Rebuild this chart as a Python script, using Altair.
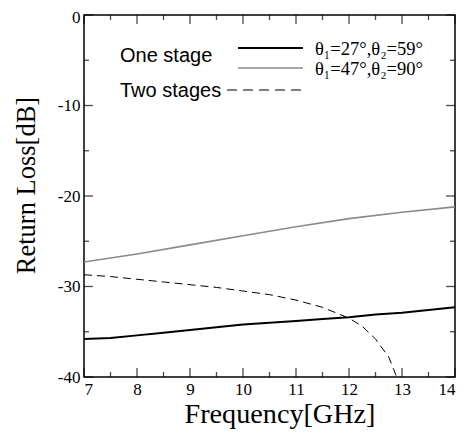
import altair as alt
import pandas as pd

# ---- data ----
freq_a = [7, 7.5, 8, 8.5, 9, 9.5, 10, 10.5, 11, 11.5, 12, 12.5, 13, 13.5, 14]
one_stage_27_59 = [-35.8, -35.7, -35.4, -35.1, -34.8, -34.5, -34.2, -34.0, -33.8,
                   -33.6, -33.4, -33.1, -32.9, -32.6, -32.3]
freq_b = [7, 8, 9, 10, 11, 12, 13, 14]
one_stage_47_90 = [-27.3, -26.4, -25.4, -24.4, -23.4, -22.5, -21.8, -21.2]
freq_c = [7, 7.5, 8, 8.5, 9, 9.5, 10, 10.5, 11, 11.5, 12, 12.25, 12.5, 12.75, 12.9]
two_stages = [-28.7, -28.9, -29.2, -29.5, -29.8, -30.1, -30.5, -30.9, -31.5,
              -32.3, -33.5, -34.4, -35.8, -37.8, -40.0]

x_major = [7, 8, 9, 10, 11, 12, 13, 14]
x_minor = [7.5, 8.5, 9.5, 10.5, 11.5, 12.5, 13.5]
y_major = [-40, -30, -20, -10, 0]
y_minor = [-35, -25, -15, -5]

x_title = "Frequency[GHz]"
y_title = "Return Loss[dB]"
legend_group1 = "One stage"
legend_group2 = "Two stages"
label1 = "θ₁=27°,θ₂=59°"
label2 = "θ₁=47°,θ₂=90°"

W, H = 371, 362
SERIF = "Liberation Serif"
SANS = "Liberation Sans"

xs = alt.Scale(domain=[7, 14], nice=False, zero=False)
ys = alt.Scale(domain=[-40, 0], nice=False, zero=False)

common = dict(ticks=False, domain=False, grid=False,
              labelFont=SERIF, labelFontSize=17, labelColor="black", labelPadding=4,
              titleFont=SERIF, titleFontWeight="normal", titleColor="black",
              labelExpr="'' + datum.value")
x_axis = alt.Axis(values=x_major, title=x_title, titlePadding=3, titleFontSize=28.2,
                  titleX=195.5, **common)
y_axis = alt.Axis(values=y_major, title=y_title, titlePadding=17, titleFontSize=26.5,
                  titleY=170,
                  labelOffset=alt.ConditionalAxisNumber(
                      condition={"test": "datum.value == 0", "value": 2}, value=0),
                  **common)

def line_layer(xv, yv, **kw):
    df = pd.DataFrame({"f": xv, "rl": yv})
    return alt.Chart(df).mark_line(clip=True, **kw).encode(
        x=alt.X("f:Q", scale=xs, axis=x_axis),
        y=alt.Y("rl:Q", scale=ys, axis=y_axis),
    )

l1 = line_layer(freq_a, one_stage_27_59, color="black", strokeWidth=2)
l2 = line_layer(freq_b, one_stage_47_90, color="#8a8a8a", strokeWidth=1.6)
l3 = line_layer(freq_c, two_stages, color="black", strokeWidth=1, strokeDash=[8, 5])

def xticks(vals, size, yv):
    return alt.Chart(pd.DataFrame({"f": vals})).mark_tick(
        color="black", thickness=1.3, size=size, orient="vertical").encode(
        x=alt.X("f:Q", scale=xs, axis=x_axis), y=alt.value(yv))

def yticks(vals, size, xv):
    return alt.Chart(pd.DataFrame({"rl": vals})).mark_tick(
        color="black", thickness=1.3, size=size, orient="horizontal").encode(
        y=alt.Y("rl:Q", scale=ys, axis=y_axis), x=alt.value(xv))

ticks = [
    xticks(x_major, 9, H - 4.5), xticks(x_major, 9, 4.5),
    xticks(x_minor, 5, H - 2.5), xticks(x_minor, 5, 2.5),
    yticks(y_major, 9, 4.5), yticks(y_major, 9, W - 4.5),
    yticks(y_minor, 5, 2.5), yticks(y_minor, 5, W - 2.5),
]

base = alt.Chart(pd.DataFrame({"a": [0]}))

def txt(s, x, y, font, size):
    return base.mark_text(text=s, font=font, fontSize=size, align="left",
                          baseline="middle", color="black").encode(
        x=alt.value(x), y=alt.value(y))

def seg(x1, x2, y, **kw):
    return base.mark_rule(**kw).encode(x=alt.value(x1), x2=alt.value(x2), y=alt.value(y))

legend = [
    txt(legend_group1, 36, 41, SANS, 20),
    txt(legend_group2, 36, 76, SANS, 20),
    seg(154, 219, 33, color="black", strokeWidth=2),
    seg(154, 219, 53, color="#8a8a8a", strokeWidth=1.6),
    seg(143, 218, 75, color="black", strokeWidth=1, strokeDash=[10, 6]),
    txt(label1, 231, 34, SERIF, 18.5),
    txt(label2, 231, 54, SERIF, 18.5),
]

chart = alt.layer(l2, l3, l1, *ticks, *legend).properties(
    width=W, height=H,
    autosize=alt.AutoSizeParams(type="none"),
    padding={"left": 76, "top": 7, "right": 5, "bottom": 55},
    background="white",
).configure_view(stroke="black", strokeWidth=1.5)

chart.save("out.html", embed_options={"renderer": "svg", "actions": False})
